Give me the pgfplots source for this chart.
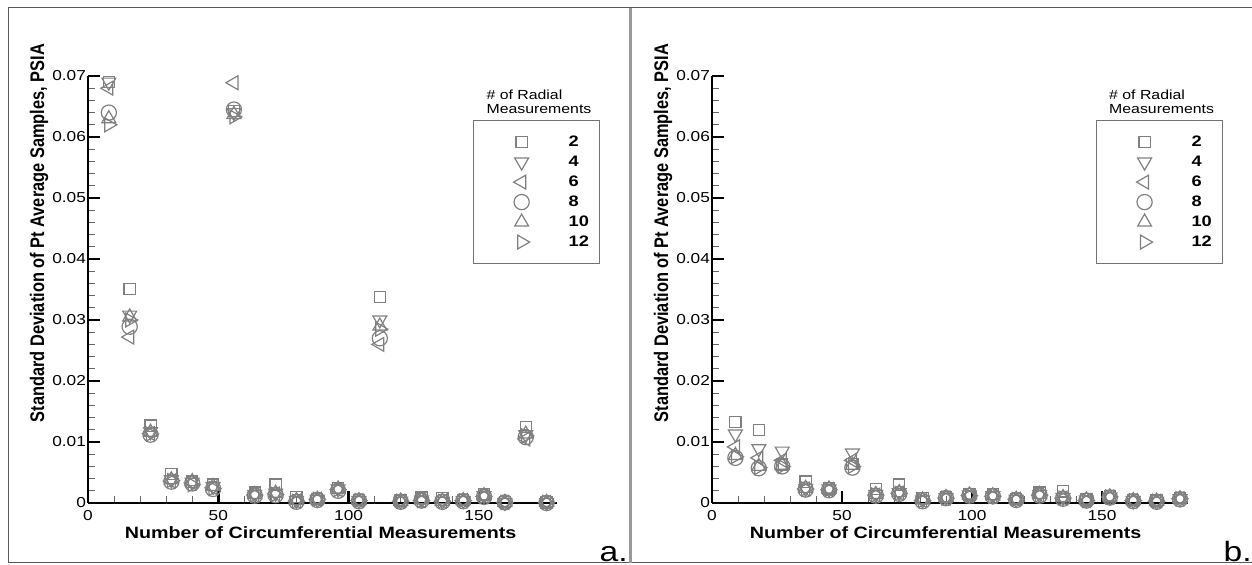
\documentclass[border=0pt]{standalone}
\usepackage{fontspec}
\setmainfont{Liberation Sans}[FakeStretch=1.2]
\newfontfamily\ylabfont{Liberation Sans}[FakeStretch=0.833]
\usepackage{pgfplots}
\usepackage{pgfplotstable}
\pgfplotsset{compat=1.18}

\pgfplotstableread{
x s2 s4 s6 s8 s10 s12
8 0.0690 0.0690 0.0680 0.0640 0.0630 0.0620
16 0.0351 0.0308 0.0272 0.0289 0.0305 0.0300
24 0.0127 0.0117 0.0114 0.0112 0.0116 0.0113
32 0.0048 0.0038 0.0036 0.0035 0.0038 0.0037
40 0.0035 0.0034 0.0033 0.0032 0.0035 0.0030
48 0.0030 0.0027 0.0025 0.0023 0.0027 0.0024
56 0.0643 0.0640 0.0689 0.0645 0.0637 0.0633
64 0.0017 0.0014 0.0013 0.0012 0.0014 0.0013
72 0.0030 0.0016 0.0015 0.0013 0.0016 0.0014
80 0.0010 0.0004 0.0003 0.0002 0.0004 0.0003
88 0.0007 0.0006 0.0006 0.0005 0.0006 0.0006
96 0.0025 0.0023 0.0022 0.0020 0.0023 0.0022
104 0.0005 0.0004 0.0004 0.0003 0.0004 0.0004
112 0.0338 0.0300 0.0260 0.0270 0.0290 0.0285
120 0.0004 0.0003 0.0003 0.0002 0.0003 0.0003
128 0.0009 0.0005 0.0004 0.0004 0.0005 0.0004
136 0.0008 0.0003 0.0003 0.0002 0.0003 0.0003
144 0.0005 0.0004 0.0004 0.0003 0.0004 0.0004
152 0.0014 0.0012 0.0011 0.0010 0.0012 0.0011
160 0.0002 0.0001 0.0001 0.0001 0.0001 0.0001
168 0.0125 0.0112 0.0105 0.0108 0.0113 0.0110
176 0.0001 0.0001 0.0001 0.0000 0.0001 0.0001
}\tableA

\pgfplotstableread{
x s2 s4 s6 s8 s10 s12
9 0.0133 0.0113 0.0092 0.0074 0.0078 0.0076
18 0.0120 0.0089 0.0074 0.0057 0.0060 0.0058
27 0.0063 0.0085 0.0070 0.0060 0.0062 0.0060
36 0.0035 0.0024 0.0023 0.0022 0.0024 0.0023
45 0.0024 0.0023 0.0022 0.0021 0.0023 0.0022
54 0.0064 0.0082 0.0070 0.0058 0.0062 0.0060
63 0.0023 0.0014 0.0013 0.0012 0.0014 0.0013
72 0.0030 0.0017 0.0016 0.0015 0.0017 0.0016
81 0.0008 0.0005 0.0004 0.0003 0.0005 0.0004
90 0.0010 0.0009 0.0008 0.0008 0.0009 0.0008
99 0.0014 0.0013 0.0012 0.0012 0.0013 0.0012
108 0.0015 0.0012 0.0011 0.0011 0.0012 0.0011
117 0.0007 0.0006 0.0006 0.0005 0.0006 0.0006
126 0.0017 0.0014 0.0013 0.0012 0.0014 0.0013
135 0.0019 0.0009 0.0008 0.0007 0.0009 0.0008
144 0.0006 0.0005 0.0004 0.0004 0.0005 0.0004
153 0.0011 0.0010 0.0010 0.0009 0.0010 0.0010
162 0.0005 0.0004 0.0004 0.0003 0.0004 0.0004
171 0.0004 0.0003 0.0003 0.0002 0.0003 0.0003
180 0.0008 0.0007 0.0007 0.0006 0.0007 0.0007
}\tableB

\pgfplotsset{
  panel/.style={
    scale only axis, height=213.5pt,
    xmin=0, ymin=0, ymax=0.07,
    axis x line*=bottom, axis y line*=left,
    axis line style={line width=1.3pt, -},
    xtick={0,50,100,150}, minor x tick num=4,
    ytick={0,0.01,0.02,0.03,0.04,0.05,0.06,0.07},
    yticklabels={0,0.01,0.02,0.03,0.04,0.05,0.06,0.07},
    scaled y ticks=false,
    minor y tick num=4,
    tick align=inside,
    major tick length=6pt, minor tick length=3.5pt,
    every major tick/.style={line width=1.3pt, black},
    every minor tick/.style={line width=0.5pt, black!60},
    tick label style={font=\fontsize{7.2}{8}\selectfont},
    /pgf/number format/assume math mode=true,
    yticklabel style={xshift=2.5pt},
    xlabel={Number of Circumferential Measurements},
    ylabel={Standard Deviation of Pt Average Samples, PSIA},
    xlabel style={font=\bfseries\fontsize{8.2}{9}\selectfont, anchor=center, yshift=-15pt},
    ylabel style={font=\ylabfont\bfseries\fontsize{9.84}{10}\selectfont, anchor=center},
    clip=false,
    legend cell align=left,
    legend image code/.code={\path[draw=none] (0pt,-5pt) rectangle (47.5pt,5pt); \draw[#1] plot coordinates {(24pt,0pt)};},
    legend style={anchor=north west, draw=black!55, line width=0.6pt, fill=none,
      inner xsep=0pt, inner ysep=5.75pt, cells={anchor=west},
      nodes={draw=none, inner sep=0pt, text height=7pt, text depth=3pt, text width=15.5pt,
        font=\bfseries\fontsize{7.6}{8}\selectfont}},
  },
  mk/.style={only marks, color=black!50},
}

\begin{document}
\begin{tikzpicture}
\path[use as bounding box] (0,0) rectangle (626pt,-282.5pt);

% ---------- panel a ----------
\begin{axis}[panel, at={(44pt,-251.5pt)}, anchor=south west, width=234.5pt, xmax=180,
  xlabel style={at={(axis description cs:0.496,0)}},
  ylabel style={at={(axis description cs:-0.1045,0.632)}},
  legend style={at={(axis description cs:0.821,0.897)}}]
\addplot[mk, mark=square, mark size=2.8pt, mark options={line width=0.6pt}] table[x=x,y=s2] {\tableA};
\addlegendentry{2}
\addplot[mk, mark=triangle, mark size=4pt, mark options={line width=0.6pt, rotate=180}] table[x=x,y=s4] {\tableA};
\addlegendentry{4}
\addplot[mk, mark=triangle, mark size=4pt, mark options={line width=0.6pt, rotate=90}] table[x=x,y=s6] {\tableA};
\addlegendentry{6}
\addplot[mk, mark=o, mark size=3.8pt, mark options={line width=0.6pt}] table[x=x,y=s8] {\tableA};
\addlegendentry{8}
\addplot[mk, mark=triangle, mark size=4pt, mark options={line width=0.6pt}] table[x=x,y=s10] {\tableA};
\addlegendentry{10}
\addplot[mk, mark=triangle, mark size=4pt, mark options={line width=0.6pt, rotate=-90}] table[x=x,y=s12] {\tableA};
\addlegendentry{12}
\node[anchor=west, align=left, inner sep=0pt, font=\fontsize{6.6}{7}\selectfont] at (axis description cs:0.849,0.939) {\# of Radial\\Measurements};
\end{axis}

% ---------- panel b ----------
\begin{axis}[panel, at={(356pt,-251.5pt)}, anchor=south west, width=237.9pt, xmax=183,
  xlabel style={at={(axis description cs:0.491,0)}},
  ylabel style={at={(axis description cs:-0.103,0.632)}},
  legend style={at={(axis description cs:0.807,0.897)}}]
\addplot[mk, mark=square, mark size=2.8pt, mark options={line width=0.6pt}] table[x=x,y=s2] {\tableB};
\addlegendentry{2}
\addplot[mk, mark=triangle, mark size=4pt, mark options={line width=0.6pt, rotate=180}] table[x=x,y=s4] {\tableB};
\addlegendentry{4}
\addplot[mk, mark=triangle, mark size=4pt, mark options={line width=0.6pt, rotate=90}] table[x=x,y=s6] {\tableB};
\addlegendentry{6}
\addplot[mk, mark=o, mark size=3.8pt, mark options={line width=0.6pt}] table[x=x,y=s8] {\tableB};
\addlegendentry{8}
\addplot[mk, mark=triangle, mark size=4pt, mark options={line width=0.6pt}] table[x=x,y=s10] {\tableB};
\addlegendentry{10}
\addplot[mk, mark=triangle, mark size=4pt, mark options={line width=0.6pt, rotate=-90}] table[x=x,y=s12] {\tableB};
\addlegendentry{12}
\node[anchor=west, align=left, inner sep=0pt, font=\fontsize{6.6}{7}\selectfont] at (axis description cs:0.834,0.939) {\# of Radial\\Measurements};
\end{axis}

% frame and panel labels
\draw[black!65, line width=0.5pt] (626pt,-4pt) -- (4pt,-4pt) -- (4pt,-281.5pt) -- (626pt,-281.5pt);
\draw[black!40, line width=1.5pt] (315pt,-4pt) -- (315pt,-281.5pt);
\node[anchor=base east, inner sep=0pt, font=\fontsize{14}{14}\selectfont] at (314pt,-281pt) {a.};
\node[anchor=base east, inner sep=0pt, font=\fontsize{14}{14}\selectfont] at (626pt,-281pt) {b.};
\end{tikzpicture}
\end{document}
